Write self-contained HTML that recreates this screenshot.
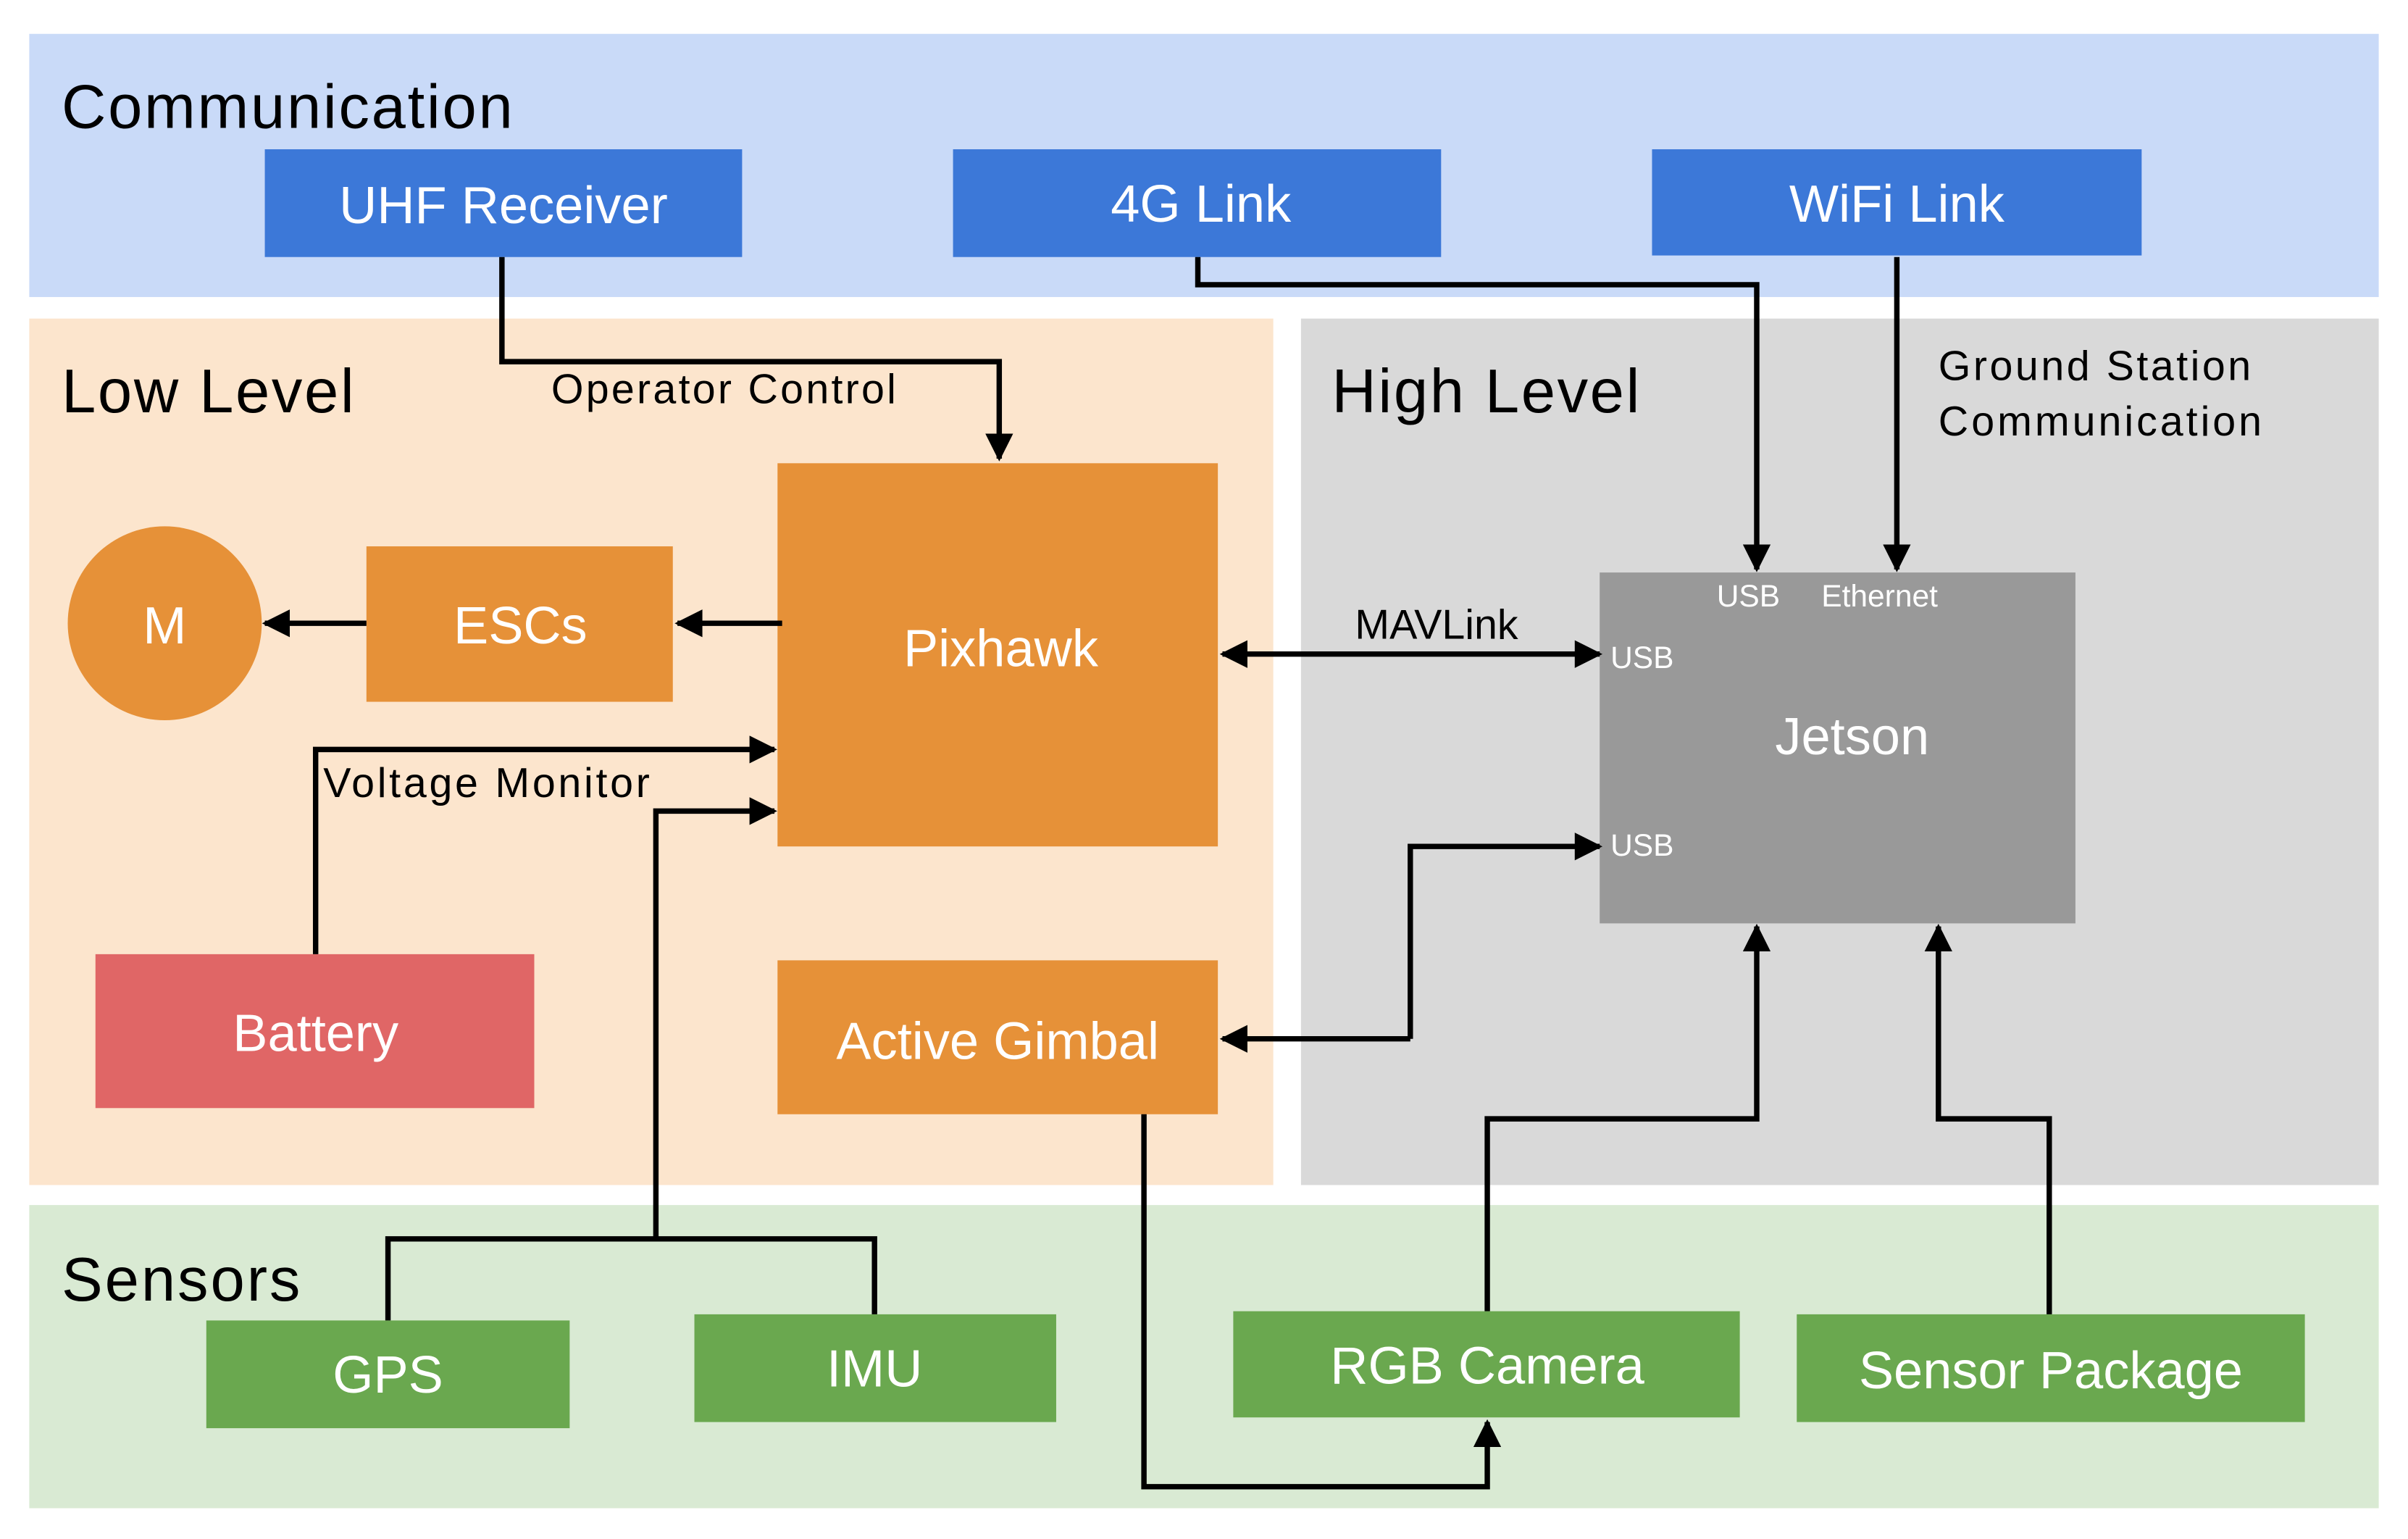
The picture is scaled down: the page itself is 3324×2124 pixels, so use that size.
<!DOCTYPE html>
<html><head><meta charset="utf-8"><style>html,body{margin:0;padding:0;background:#fff}svg{display:block}</style></head>
<body>
<svg width="3324" height="2124" viewBox="0 0 1564 1000" preserveAspectRatio="none" xmlns="http://www.w3.org/2000/svg" font-family="Liberation Sans, sans-serif">
<defs><marker id="a" viewBox="0 0 10 10" refX="9" refY="5" markerWidth="22" markerHeight="18" markerUnits="userSpaceOnUse" orient="auto-start-reverse"><path d="M0,0 L10,5 L0,10 z" fill="#000"/></marker></defs>
<rect x="19" y="22" width="1526" height="171" fill="#c9daf8"/>
<rect x="19" y="207" width="808" height="563" fill="#fce5cd"/>
<rect x="845" y="207" width="700" height="563" fill="#d9d9d9"/>
<rect x="19" y="783" width="1526" height="197" fill="#d9ead3"/>
<g font-size="40" fill="#000">
<text x="40" y="83" textLength="293">Communication</text><text x="40" y="268" textLength="190">Low Level</text><text x="865" y="268" textLength="200">High Level</text><text x="40" y="845" textLength="155">Sensors</text></g>
<g fill="#3c78d8"><rect x="172" y="97" width="310" height="70"/><rect x="619" y="97" width="317" height="70"/><rect x="1073" y="97" width="318" height="69"/></g>
<g fill="#e69138"><rect x="505" y="301" width="286" height="249"/><rect x="238" y="355" width="199" height="101"/><circle cx="107" cy="405" r="63"/><rect x="505" y="624" width="286" height="100"/></g>
<rect x="62" y="620" width="285" height="100" fill="#e06666"/>
<rect x="1039" y="372" width="309" height="228" fill="#999"/>
<g fill="#6aa84f"><rect x="134" y="858" width="236" height="70"/><rect x="451" y="854" width="235" height="70"/><rect x="801" y="852" width="329" height="69"/><rect x="1167" y="854" width="330" height="70"/></g>
<g font-size="34" fill="#fff" text-anchor="middle">
<text x="327" y="145">UHF Receiver</text><text x="780" y="144">4G Link</text><text x="1232" y="144">WiFi Link</text>
<text x="650" y="433">Pixhawk</text><text x="338" y="418">ESCs</text><text x="107" y="418">M</text>
<text x="205" y="683">Battery</text><text x="648" y="688">Active Gimbal</text><text x="1203" y="490">Jetson</text>
<text x="252" y="905">GPS</text><text x="568" y="901">IMU</text><text x="966" y="899">RGB Camera</text><text x="1332" y="902">Sensor Package</text></g>
<g font-size="20" fill="#fff"><text x="1115" y="394">USB</text><text x="1183" y="394">Ethernet</text><text x="1046" y="434">USB</text><text x="1046" y="556">USB</text></g>
<g font-size="27" fill="#000"><text x="358" y="262" textLength="224">Operator Control</text><text x="210" y="518" textLength="212">Voltage Monitor</text><text x="880" y="415">MAVLink</text><text x="1259" y="247" textLength="203">Ground Station</text><text x="1259" y="283" textLength="210">Communication</text></g>
<g fill="none" stroke="#000" stroke-width="3.5">
<path d="M326,167 V235 H649 V298" marker-end="url(#a)"/>
<path d="M778,167 V185 H1141 V370" marker-end="url(#a)"/>
<path d="M1232,167 V370" marker-end="url(#a)"/>
<path d="M508,405 H440" marker-end="url(#a)"/>
<path d="M238,405 H172" marker-end="url(#a)"/>
<path d="M794,425 H1039" marker-start="url(#a)" marker-end="url(#a)"/>
<path d="M205,620 V487 H503" marker-end="url(#a)"/>
<path d="M252,858 V805 H568 V854"/>
<path d="M426,805 V527 H503" marker-end="url(#a)"/>
<path d="M916,675 H794" marker-end="url(#a)"/>
<path d="M916,675 V550 H1039" marker-end="url(#a)"/>
<path d="M743,724 V966 H966 V924" marker-end="url(#a)"/>
<path d="M966,852 V727 H1141 V602" marker-end="url(#a)"/>
<path d="M1331,854 V727 H1259 V602" marker-end="url(#a)"/>
</g>
</svg>
</body></html>
